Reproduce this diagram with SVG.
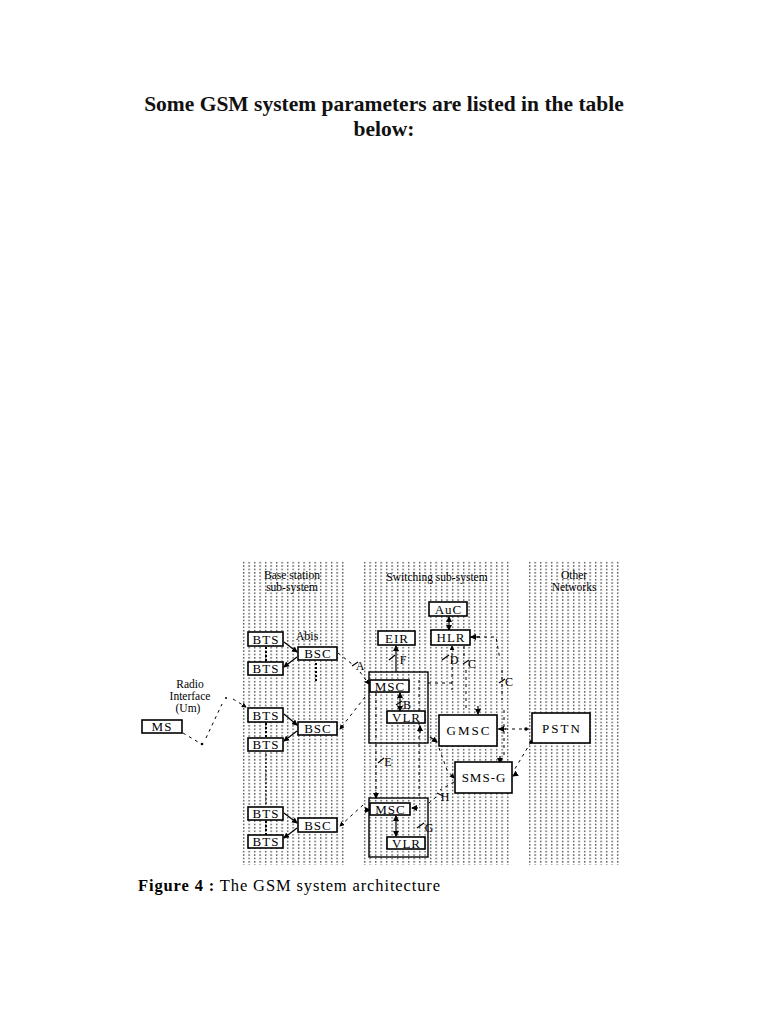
<svg xmlns="http://www.w3.org/2000/svg" width="768" height="1024" viewBox="0 0 768 1024">
<defs>
<pattern id="dots" x="0" y="0" width="5.5" height="3.4" patternUnits="userSpaceOnUse">
<rect x="1" y="1" width="1.3" height="1.3" fill="#222"/>
</pattern>
<marker id="ah" viewBox="0 0 6 6" refX="5" refY="3" markerWidth="5" markerHeight="5" orient="auto-start-reverse">
<path d="M0,0 L6,3 L0,6 z" fill="#000"/>
</marker>
</defs>
<style>
.title{font-family:"Liberation Serif",serif;font-weight:bold;font-size:21.5px;fill:#111;text-anchor:middle}
.box{fill:#fff;stroke:#000;stroke-width:1.6}
.outer{fill:none;stroke:#000;stroke-width:1.4}
.lbl{font-family:"Liberation Serif",serif;font-size:13px;fill:#000;text-anchor:middle;letter-spacing:1px}
.hdr{font-family:"Liberation Serif",serif;font-size:11.5px;fill:#000;text-anchor:middle}
.sm{font-family:"Liberation Serif",serif;font-size:12px;fill:#000;text-anchor:middle}
.dash{fill:none;stroke:#000;stroke-width:1;stroke-dasharray:3 4}
.solid{fill:none;stroke:#000;stroke-width:1.2}
.vdot{fill:none;stroke:#000;stroke-width:2;stroke-dasharray:2 2}
.cap{font-family:"Liberation Serif",serif;font-size:16.5px;fill:#000}
</style>
<rect width="768" height="1024" fill="#fff"/>
<text class="title" x="384" y="111">Some GSM system parameters are listed in the table</text>
<text class="title" x="384" y="136">below:</text>

<g id="panels">
<rect x="240" y="561" width="104" height="304" fill="url(#dots)"/>
<rect x="363" y="561" width="146" height="304" fill="url(#dots)"/>
<rect x="529" y="561" width="92" height="304" fill="url(#dots)"/>
</g>

<g id="headers">
<text class="hdr" x="292" y="579">Base station</text>
<text class="hdr" x="292" y="591">sub-system</text>
<text class="hdr" x="437" y="581">Switching sub-system</text>
<text class="hdr" x="574" y="579">Other</text>
<text class="hdr" x="574" y="591">Networks</text>
</g>

<g id="connectors">
<line class="solid" x1="284" y1="642" x2="297" y2="652" marker-end="url(#ah)"/>
<line class="solid" x1="297" y1="657" x2="284" y2="667" marker-end="url(#ah)"/>
<line class="vdot" x1="266" y1="647" x2="266" y2="662"/>
<line class="vdot" x1="316" y1="663" x2="316" y2="683"/>
<line class="solid" x1="284" y1="714" x2="297" y2="725" marker-end="url(#ah)"/>
<line class="solid" x1="297" y1="731" x2="284" y2="741" marker-end="url(#ah)"/>
<line class="vdot" x1="266" y1="723" x2="266" y2="737"/>
<line class="vdot" x1="266" y1="754" x2="266" y2="806" style="stroke-width:1.2"/>
<line class="solid" x1="284" y1="813" x2="297" y2="823" marker-end="url(#ah)"/>
<line class="solid" x1="297" y1="828" x2="284" y2="838" marker-end="url(#ah)"/>
<line class="vdot" x1="266" y1="821" x2="266" y2="835"/>
<path class="dash" d="M183,733 L198,742"/>
<circle cx="202" cy="744" r="1.3" fill="#000"/>
<path class="dash" d="M206,738 L222,704"/>
<circle cx="226" cy="698" r="1" fill="#000"/>
<line class="dash" x1="233" y1="699" x2="246" y2="707" marker-end="url(#ah)"/>
<path class="dash" d="M338,653 L352,664"/>
<path class="solid" d="M352,666 L358,662" />
<path class="dash" d="M360,672 L369,684" marker-end="url(#ah)"/>
<path class="dash" d="M365,697 L340,729" marker-end="url(#ah)"/>
<path class="dash" d="M363,805 L340,826" marker-end="url(#ah)"/>
<line class="solid" x1="396" y1="646" x2="396" y2="672" marker-start="url(#ah)"/>
<path class="solid" d="M389,660 L395,655"/>
<line class="solid" x1="449" y1="617" x2="449" y2="630" marker-start="url(#ah)" marker-end="url(#ah)"/>
<path class="dash" d="M452,646 L452,690" marker-start="url(#ah)"/>
<path class="dash" d="M428,683 L452,683"/>
<path class="solid" d="M442,660 L449,655"/>
<path class="dash" d="M464,646 L464,660"/>
<path class="solid" d="M463,664 L469,660"/>
<path class="dash" d="M466,670 L466,712"/>
<line class="solid" x1="478" y1="706" x2="478" y2="714" marker-end="url(#ah)"/>
<path class="dash" d="M470,637 L496,637 L500,660"/>
<line class="solid" x1="480" y1="637" x2="471" y2="637" marker-end="url(#ah)"/>
<path class="dash" d="M502,670 L502,700"/>
<path class="dash" d="M504,710 L504,756"/>
<line class="solid" x1="500" y1="756" x2="500" y2="763" marker-end="url(#ah)"/>
<path class="solid" d="M499,683 L505,679"/>
<line class="solid" x1="400" y1="693" x2="400" y2="711" marker-start="url(#ah)" marker-end="url(#ah)"/>
<path class="solid" d="M396,705 L402,701"/>
<path class="dash" d="M376,693 L376,742"/>
<path class="dash" d="M376,744 L376,797" />
<line class="solid" x1="376" y1="792" x2="376" y2="798" marker-end="url(#ah)"/>
<path class="solid" d="M378,763 L384,758"/>
<path class="dash" d="M419,680 L419,742"/>
<path class="dash" d="M419,744 L419,800"/>
<line class="solid" x1="420" y1="733" x2="420" y2="726" marker-end="url(#ah)"/>
<line class="solid" x1="430" y1="737" x2="437" y2="742" marker-end="url(#ah)"/>
<path class="dash" d="M498,729 L531,729"/>
<line class="solid" x1="506" y1="729" x2="499" y2="729" marker-end="url(#ah)"/>
<circle cx="526" cy="729" r="1.8" fill="#000"/>
<path class="dash" d="M531,742 L513,772"/>
<circle cx="531" cy="742" r="1.8" fill="#000"/>
<line class="solid" x1="516" y1="774" x2="513" y2="776" marker-end="url(#ah)"/>
<path class="dash" d="M439,748 L447,770 L454,778" marker-end="url(#ah)"/>
<path class="dash" d="M454,782 L440,790"/>
<path class="solid" d="M437,793 L443,796"/>
<path class="dash" d="M436,797 L429,803"/>
<line class="solid" x1="396" y1="816" x2="396" y2="836" marker-start="url(#ah)" marker-end="url(#ah)"/>
<line class="solid" x1="418" y1="808" x2="412" y2="808" marker-end="url(#ah)"/>
<path class="solid" d="M417,828 L424,823"/>
<line class="solid" x1="366" y1="810" x2="370" y2="810" marker-end="url(#ah)"/>
</g>

<g id="MS"><rect class="box" x="142" y="720" width="40" height="13"/><text class="lbl" x="162" y="731">MS</text></g>
<g id="BTS1"><rect class="box" x="248" y="632" width="35" height="14"/><text class="lbl" x="266" y="644">BTS</text></g>
<g id="BTS2"><rect class="box" x="248" y="662" width="35" height="13"/><text class="lbl" x="266" y="673">BTS</text></g>
<g id="BSC1"><rect class="box" x="298" y="647" width="39" height="13"/><text class="lbl" x="318" y="658">BSC</text></g>
<g id="BTS3"><rect class="box" x="248" y="708" width="35" height="14"/><text class="lbl" x="266" y="720">BTS</text></g>
<g id="BTS4"><rect class="box" x="248" y="738" width="35" height="13"/><text class="lbl" x="266" y="749">BTS</text></g>
<g id="BSC2"><rect class="box" x="298" y="722" width="39" height="13"/><text class="lbl" x="318" y="733">BSC</text></g>
<g id="BTS5"><rect class="box" x="248" y="807" width="35" height="13"/><text class="lbl" x="266" y="818">BTS</text></g>
<g id="BTS6"><rect class="box" x="248" y="835" width="35" height="13"/><text class="lbl" x="266" y="846">BTS</text></g>
<g id="BSC3"><rect class="box" x="298" y="818" width="39" height="14"/><text class="lbl" x="318" y="830">BSC</text></g>

<g id="MSC1group"><rect class="outer" x="369" y="672" width="59" height="71"/></g>
<g id="MSC1"><rect class="box" x="370" y="680" width="39" height="12"/><text class="lbl" x="390" y="691">MSC</text></g>
<g id="VLR1"><rect class="box" x="387" y="711" width="38" height="12"/><text class="lbl" x="406.5" y="722">VLR</text></g>
<g id="MSC2group"><rect class="outer" x="369" y="798" width="59" height="59"/></g>
<g id="MSC2"><rect class="box" x="370" y="803" width="40" height="12"/><text class="lbl" x="390.5" y="814">MSC</text></g>
<g id="VLR2"><rect class="box" x="387" y="837" width="38" height="12"/><text class="lbl" x="406.5" y="848">VLR</text></g>
<g id="EIR"><rect class="box" x="378" y="631" width="37" height="14"/><text class="lbl" x="397" y="643">EIR</text></g>
<g id="AuC"><rect class="box" x="429" y="602" width="38" height="14"/><text class="lbl" x="448.5" y="614">AuC</text></g>
<g id="HLR"><rect class="box" x="431" y="630" width="39" height="15"/><text class="lbl" x="451" y="642">HLR</text></g>
<g id="GMSC"><rect class="box" x="439" y="715" width="58" height="31"/><text class="lbl" x="469" y="735" style="letter-spacing:2px">GMSC</text></g>
<g id="PSTN"><rect class="box" x="532" y="713" width="58" height="30"/><text class="lbl" x="562" y="733" style="letter-spacing:2px">PSTN</text></g>
<g id="SMS-G"><rect class="box" x="455" y="762" width="57" height="31"/><text class="lbl" x="484" y="782">SMS-G</text></g>

<g id="labels">
<text class="sm" x="307" y="640">Abis</text>
<text class="sm" x="360" y="670">A</text>
<text class="hdr" x="190" y="688">Radio</text>
<text class="hdr" x="190" y="700">Interface</text>
<text class="hdr" x="188" y="712">(Um)</text>
<text class="sm" x="403" y="664">F</text>
<text class="sm" x="454" y="664">D</text>
<text class="sm" x="472" y="668">C</text>
<text class="sm" x="509" y="686">C</text>
<text class="sm" x="407" y="709">B</text>
<text class="sm" x="388" y="766">E</text>
<text class="sm" x="445" y="801">H</text>
<text class="sm" x="429" y="832">G</text>
</g>

<text class="cap" x="138" y="891" textLength="302" lengthAdjust="spacing"><tspan font-weight="bold">Figure 4 :</tspan> The GSM system architecture</text>
</svg>
